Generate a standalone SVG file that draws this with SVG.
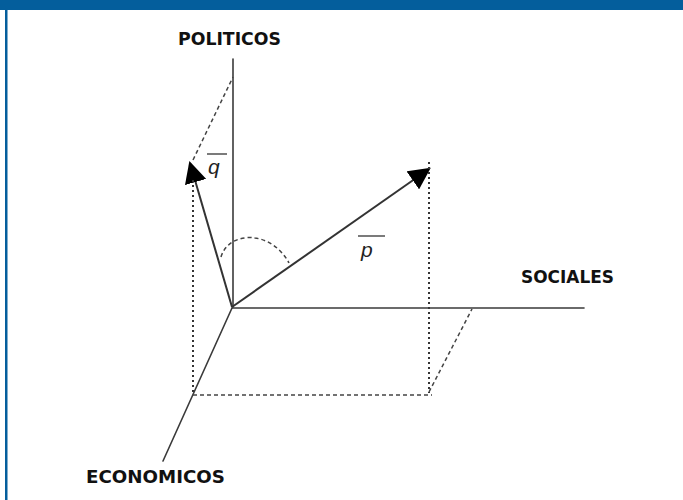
<svg xmlns="http://www.w3.org/2000/svg" width="683" height="500" viewBox="0 0 683 500">
<style>
.axis{stroke:#3a3a3a;stroke-width:1.6;fill:none;stroke-linecap:round}
.vec{stroke:#333;stroke-width:2;fill:none}
.dot{stroke:#333;stroke-width:2;fill:none;stroke-dasharray:2 3}
.dash{stroke:#444;stroke-width:1.5;fill:none;stroke-dasharray:4 3}
.lbl{font-family:"DejaVu Sans","Liberation Sans",Arial,sans-serif;font-weight:bold;font-size:17px;fill:#111}
.var{font-family:"Liberation Sans",Arial,sans-serif;font-style:italic;font-size:21px;fill:#222}
</style>
<defs>
<marker id="ah" markerUnits="userSpaceOnUse" markerWidth="22" markerHeight="22" viewBox="0 0 20 20" refX="18" refY="10" orient="auto">
<path d="M0,0 L20,10 L0,20 Z" fill="#000"/>
</marker>
</defs>
<rect x="0" y="0" width="683" height="500" fill="#fff"/>
<rect x="0" y="0" width="683" height="10" fill="#045e9c"/>
<rect x="5" y="10" width="2.5" height="490" fill="#045e9c"/>
<g id="connectors">
<line class="axis" x1="233" y1="59" x2="233" y2="307"/>
<line class="axis" x1="232" y1="308" x2="584" y2="308" stroke="#555" stroke-width="2"/>
<line class="axis" x1="232" y1="308" x2="163" y2="461"/>
<line class="vec" x1="232" y1="307" x2="190" y2="163" marker-end="url(#ah)"/>
<line class="vec" x1="232" y1="307" x2="429" y2="169" marker-end="url(#ah)"/>
<line class="dot" x1="429" y1="162" x2="429" y2="393"/>
<line class="dot" x1="193" y1="180" x2="193" y2="394"/>
<line class="dash" x1="193" y1="395" x2="432" y2="395"/>
<line class="dash" x1="429" y1="392" x2="472" y2="309"/>
<line class="dash" x1="193" y1="160" x2="233" y2="77"/>
<path class="dash" d="M221,257 C226,240 244,236 255,238 C270,240 282,250 289,263"/>
</g>
<g id="politicos"><text class="lbl" x="178" y="45" textLength="103" lengthAdjust="spacingAndGlyphs">POLITICOS</text></g>
<g id="sociales"><text class="lbl" x="521" y="283" textLength="93" lengthAdjust="spacingAndGlyphs">SOCIALES</text></g>
<g id="economicos"><text class="lbl" x="86" y="483" textLength="139" lengthAdjust="spacingAndGlyphs">ECONOMICOS</text></g>
<g id="q-label">
<line x1="207" y1="154" x2="227" y2="154" stroke="#333" stroke-width="1.3"/>
<text class="var" x="208" y="174">q</text>
</g>
<g id="p-label">
<line x1="358" y1="236" x2="385" y2="236" stroke="#333" stroke-width="1.3"/>
<text class="var" x="361" y="257">p</text>
</g>
</svg>
